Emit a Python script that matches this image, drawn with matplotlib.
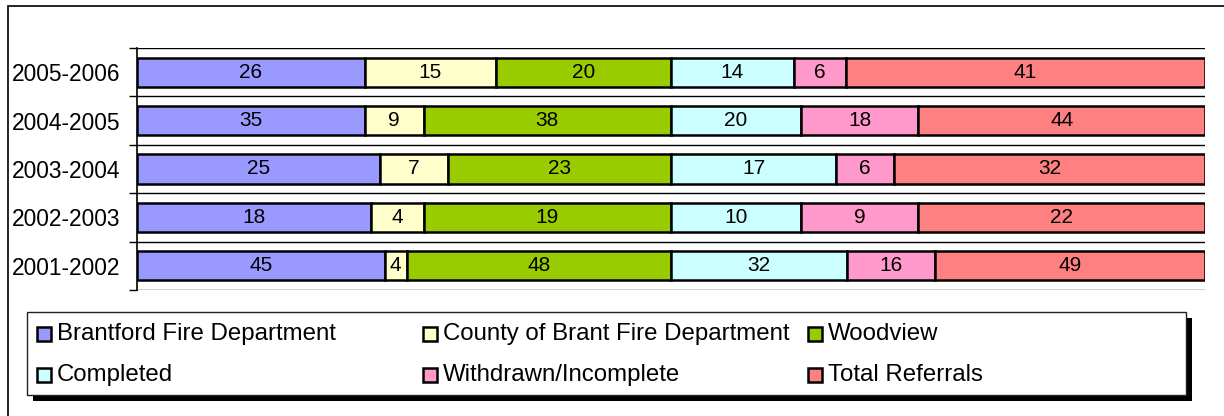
import numpy as np
import matplotlib.pyplot as plt
from matplotlib.patches import Rectangle

plt.rcParams['font.family'] = ['Liberation Sans', 'DejaVu Sans']

years = ['2001-2002', '2002-2003', '2003-2004', '2004-2005', '2005-2006']
series_names = ['Brantford Fire Department', 'County of Brant Fire Department', 'Woodview',
                'Completed', 'Withdrawn/Incomplete', 'Total Referrals']
brantford = [45, 18, 25, 35, 26]
county = [4, 4, 7, 9, 15]
woodview = [48, 19, 23, 38, 20]
completed = [32, 10, 17, 20, 14]
withdrawn = [16, 9, 6, 18, 6]
total = [49, 22, 32, 44, 41]
colors = ['#9999FF', '#FFFFCC', '#99CC00', '#CCFFFF', '#FF99CC', '#FF8080']

data = np.array([brantford, county, woodview, completed, withdrawn, total], dtype=float)
row_sums = data.sum(axis=0)
shares = data / row_sums

fig = plt.figure(figsize=(12.24, 4.16), dpi=100)
ax = fig.add_axes([137/1224, 1 - 290/416, (1205 - 137)/1224, (290 - 48)/416])

y = np.arange(len(years))
left = np.zeros(len(years))
for i, name in enumerate(series_names):
    bars = ax.barh(y, shares[i], left=left, height=0.6, color=colors[i],
                   edgecolor='black', linewidth=1.8, label=name, zorder=3)
    ax.bar_label(bars, labels=[f'{int(v)}' for v in data[i]], label_type='center',
                 fontsize=15, zorder=4)
    left += shares[i]

ax.set_xlim(0, 1)
ax.set_ylim(-0.5, len(years) - 0.5)
ax.set_xticks([])
ax.set_yticks(np.arange(len(years) + 1) - 0.5)
ax.set_yticklabels([])
ax.tick_params(axis='y', which='major', length=6, width=1, color='black')
ax.set_yticks(y, minor=True)
ax.set_yticklabels(years, minor=True, fontsize=16.4)
ax.tick_params(axis='y', which='minor', length=0, pad=12)
ax.grid(axis='y', which='major', color='black', linewidth=1, zorder=0)
ax.set_axisbelow(True)
for s in ['top', 'right', 'bottom']:
    ax.spines[s].set_visible(False)
ax.spines['left'].set_linewidth(1.2)

# outer frame (cropped on right and bottom)
fig.add_artist(Rectangle((8/1224, -0.1), 1.2, 1 - 6/416 + 0.1, transform=fig.transFigure,
                         facecolor='none', edgecolor='black', linewidth=1.2))

# legend box with shadow
lx0, lx1, ly0, ly1 = 27, 1186, 312, 395
off = 6
fig.add_artist(Rectangle(((lx0 + off)/1224, 1 - (ly1 + off)/416), (lx1 - lx0)/1224, (ly1 - ly0)/416,
                         transform=fig.transFigure, facecolor='black', edgecolor='none'))
fig.add_artist(Rectangle((lx0/1224, 1 - ly1/416), (lx1 - lx0)/1224, (ly1 - ly0)/416,
                         transform=fig.transFigure, facecolor='white', edgecolor='#222222', linewidth=1))

col_x = [37, 423, 808]
row_y = [334, 375]
for i, name in enumerate(series_names):
    cx = col_x[i % 3]
    cy = row_y[i // 3]
    fig.add_artist(Rectangle((cx/1224, 1 - (cy + 7)/416), 14/1224, 14/416,
                             transform=fig.transFigure, facecolor=colors[i],
                             edgecolor='black', linewidth=1.8))
    fig.text((cx + 20)/1224, 1 - cy/416, name, fontsize=17.3, va='center', ha='left')

fig.savefig('out.png', dpi=100)
